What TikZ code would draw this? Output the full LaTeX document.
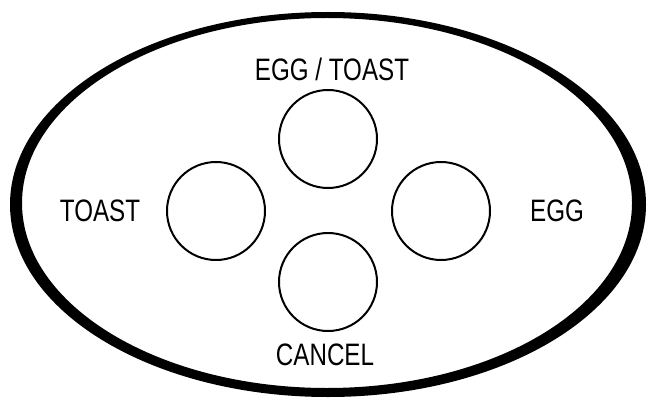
\documentclass[tikz,border=0pt]{standalone}
\usepackage{fontspec}
\newfontfamily\panelfont[FakeStretch=0.78]{Liberation Sans}

\begin{document}
\begin{tikzpicture}[x=1pt, y=-1pt,
        button/.style={line width=2pt},
        btnlabel/.style={inner sep=0pt, font=\panelfont\fontsize{31}{34}\selectfont}]
        \useasboundingbox (0,0) rectangle (647,398);

        \fill[even odd rule] (328,204.5) ellipse (318 and 192.5)
                             (327,203) ellipse (305 and 185);

        \draw[button] (328,139) circle (49);
        \draw[button] (216,211) circle (49);
        \draw[button] (441,211) circle (49);
        \draw[button] (328,282) circle (49);

        \node[btnlabel] (eggtoast) at (332,69) {EGG / TOAST};
        \node[btnlabel] (toast) at (100,210.5) {TOAST};
        \node[btnlabel] (egg) at (557,210.5) {EGG};
        \node[btnlabel] (cancel) at (325,354.5) {CANCEL};

    \end{tikzpicture}
\end{document}
